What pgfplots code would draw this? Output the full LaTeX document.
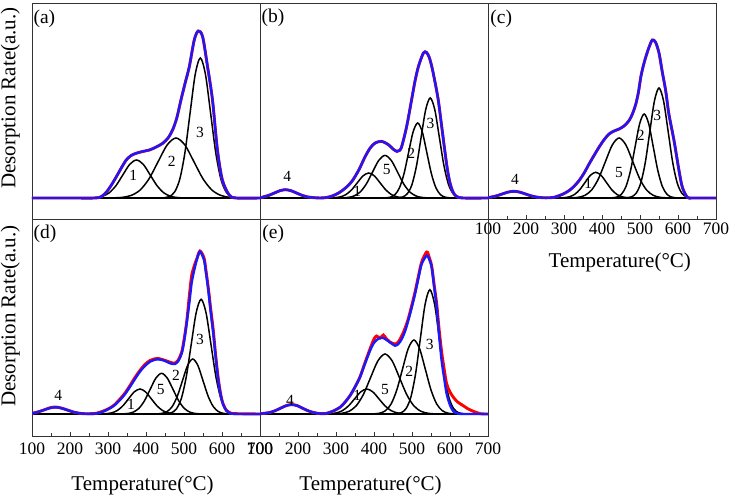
\documentclass[border=0pt]{standalone}
\usepackage{fontspec}
\setmainfont{Liberation Serif}
\usepackage{pgfplots}
\usepackage{pgfplotstable}
\pgfplotsset{compat=1.18}

\pgfplotstableread{
x y
100 0
200 0
265 0
283 1.5
296 6
309 13
322 21.3
335 30
348 38
361 42.5
374 44.7
391 46.5
409 48
427 51
444 54.7
458 60
470 68
481 80
492 98
503 115
514 131.3
527 158
537.5 167
549 161.3
562 131.3
575 98
588 48
601 18
619 3
637 0
700 0
}\fitA

\pgfplotstableread{
x y
100 0
109 1.1
123.5 2.7
138 5.0
152.5 7.3
167 8.3
181.5 7.3
196 5.0
210.5 2.7
225 1.1
240 0.4
258 0
275 0.5
290 2
307 5
325 10
342 16.7
360 28
377 41.6
390 50
403 55
420 56.6
438 53.3
450 49
460 46.6
467 47.5
473 51.6
486 71.6
499 98.3
508 117
517 131.6
530 145
538 145.6
545 141
552 131.6
560 117
569 98.3
578 72
586 48.3
593 29
600 15
608 6
617 1.6
635 0
700 0
}\fitB

\pgfplotstableread{
x y
100 0.4
108 0.9
123 2.2
138 4.1
153 5.9
168 6.7
183 5.9
198 4.1
213 2.2
228 0.9
243 0.3
260 0.2
275 0.8
295 3.5
313 7.3
326 11.5
339.5 17.3
353 25
366 34
379 42.5
392 50.7
405 58
418.5 64
432 67
445 69
458 72
471 77.3
480 84
489 94
496 106
502 120.7
508 131
515 140.7
524 151
532.5 158
541 155.7
550 145
558.8 125.7
567.6 107.3
576 84
589.6 57.3
602.7 27.3
611.5 10.7
624.7 0.7
640 0
700 0
}\fitC

\pgfplotstableread{
x y
100 0.6
117 2.2
132 4.1
147 5.9
162 6.7
177 5.9
192 4.1
207 2.2
222 0.9
237 0.3
255 0.1
270 0.5
288 2.5
305 5.7
318 9
331.6 14
345 20
358 27.3
371 35
384 42.3
397 48
410.5 52.3
421 54
432.4 54.7
443 54
454.5 52.3
465 50.5
476 50
485 53
494 60.7
500 72
507 90.7
514 111
520 130.7
527 144
533.5 154
542 162.3
552.7 154
558 141
564 124
570 103
577 80.7
583 58
590 34
597 18
603.5 9
612 3
621 0.7
640 0
700 0
}\fitD

\pgfplotstableread{
x y
100 0.6
117 2.2
132 4.1
147 6.2
162 7.0
177 5.9
192 4.1
207 2.2
222 0.9
237 0.3
255 0.3
270 0.8
288 3
305 6
318 9.5
331.6 15
345 21
358 28.5
371 36.5
384 43.5
397 49.5
410.5 53.5
421 55
432.4 55.5
443 54.5
454.5 53
465 51.5
476 51
485 54
494 62
500 74
507 92
514 118
520 138
527 148
533.5 155
542 163
552.7 156
558 143
564 126
570 106
577 84
583 60
590 36
597 19
603.5 9.5
612 3.5
621 1
640 0.3
700 0
}\datD

\pgfplotstableread{
x y
100 0.2
123 1.3
138 3.0
153 5.6
168 8.2
183 9.3
198 8.2
213 5.6
228 3.0
243 1.3
258 0.4
271 0.3
290 2.5
310.5 6.7
323 11.5
336.8 18.3
350 27
363 36.7
376 50
389.5 63.3
398 70
407 74
416 76
424.6 76
433 74
442 71.7
455 68.3
464 70
473 75
482 83
490 93.3
499 106
508 120
517 136
525.5 150
538.6 158.3
545 155
551.8 146.7
558 128
565 106.7
571 80
578 53.3
585 35
591.3 20
600 9
608.8 2.7
620 0.5
640 0
700 0
}\fitE

\pgfplotstableread{
x y
100 0.2
123 1.3
138 3.0
153 5.6
168 8.2
183 9.5
198 8.4
213 5.6
228 3.0
243 1.3
258 0.4
271 0.3
290 2.5
310.5 6.7
323 11.5
336.8 18.3
350 27
363 37
376 51
389.5 65
400 75
407 78
416 76
424.6 79
433 75
442 72
455 70
464 72
473 78
482 86
490 95
499 108
508 122
517 138
525.5 152
538.6 162
545 157
551.8 148
558 130
565 110
571 86
578 62
585 44
591.3 30
600 22
609 16.7
620 12
635 8.3
648 5
661.5 2.7
680 0.3
700 0
}\datE

\tikzset{
  pk/.style={font=\fontsize{15.5}{18}\selectfont, inner sep=0pt},
  plab/.style={font=\fontsize{19.5}{22}\selectfont, inner sep=0pt, anchor=north west},
}

\pgfplotsset{
  panel/.style={
    width=228pt, height=216pt, scale only axis,
    xmin=100, xmax=700, ymin=-21, ymax=195,
    ytick=\empty,
    axis line style={black!80, line width=0.9pt},
    tick style={black!80, line width=0.8pt},
    tick align=inside, xtick pos=bottom,
    xtick={100,200,...,700}, minor x tick num=1,
    major tick length=4pt, minor tick length=2.5pt,
    ticklabel style={font=\fontsize{17.5}{20}\selectfont},
    /pgf/number format/assume math mode=true,
    label style={font=\fontsize{21}{24}\selectfont},
    ylabel style={at={(axis description cs:-0.052,0.56)}, anchor=south, inner sep=0pt},
  },
  lower/.style={height=217pt, ymin=-22, ymax=195,
    xticklabel style={yshift=-3pt},
    xlabel style={at={(axis description cs:0.485,-0.226)}, anchor=center, inner sep=0pt}},
  notick/.style={xtick=\empty, minor x tick num=0},
  comp/.style={black, line width=1.5pt, smooth},
  fitc/.style={color={rgb,255:red,25;green,25;blue,255}, line width=2.4pt, smooth, tension=0.5},
  datc/.style={red, line width=2.9pt, smooth, tension=0.5},
}

\begin{document}
\begin{tikzpicture}
\useasboundingbox (0,0) rectangle (734pt,502pt);

% (a)
\begin{axis}[panel, notick, at={(32pt,283pt)}, anchor=south west, ylabel={Desorption Rate(a.u.)}]
\addplot[black, line width=1.5pt] coordinates {(100,0) (700,0)};
\addplot[comp] coordinates {(249,0.08) (267,0.42) (285,1.67) (303,5.14) (321,12.34) (339,23.05) (357,33.54) (375,38) (393,33.54) (411,23.05) (429,12.34) (447,5.14) (465,1.67) (483,0.42) (501,0.08)};
\addplot[comp] coordinates {(314.5,0.13) (338,0.67) (361.5,2.63) (385,8.12) (408.5,19.48) (432,36.39) (455.5,52.95) (479,60) (502.5,52.95) (526,36.39) (549.5,19.48) (573,8.12) (596.5,2.63) (620,0.67) (643.5,0.13)};
\addplot[comp] coordinates {(448.5,0.31) (462,1.55) (475.5,6.15) (489,18.94) (502.5,45.46) (516,84.91) (529.5,123.55) (543,140) (556.5,123.55) (570,84.91) (583.5,45.46) (597,18.94) (610.5,6.15) (624,1.55) (637.5,0.31)};
\addplot[datc] table {\fitA};
\addplot[fitc] table {\fitA};
\node[pk] at (axis cs:366.7,23) {1};
\node[pk] at (axis cs:467.6,36.3) {2};
\node[pk] at (axis cs:542,65.3) {3};
\node[plab] at (axis description cs:0.006,0.97) {(a)};
\end{axis}

% (b)
\begin{axis}[panel, notick, at={(260pt,283pt)}, anchor=south west]
\addplot[black, line width=1.5pt] coordinates {(100,0) (700,0)};
\addplot[comp] coordinates {(65.5,0.02) (80,0.09) (94.5,0.36) (109,1.12) (123.5,2.69) (138,5.03) (152.5,7.32) (167,8.3) (181.5,7.32) (196,5.03) (210.5,2.69) (225,1.12) (239.5,0.36) (254,0.09) (268.5,0.02)};
\addplot[comp] coordinates {(281,0.06) (296,0.28) (311,1.10) (326,3.38) (341,8.12) (356,15.16) (371,22.06) (386,25) (401,22.06) (416,15.16) (431,8.12) (446,3.38) (461,1.10) (476,0.28) (491,0.06)};
\addplot[comp] coordinates {(313.5,0.09) (330,0.47) (346.5,1.87) (363,5.76) (379.5,13.83) (396,25.84) (412.5,37.59) (429,42.6) (445.5,37.59) (462,25.84) (478.5,13.83) (495,5.76) (511.5,1.87) (528,0.47) (544.5,0.09)};
\addplot[comp] coordinates {(431,0.17) (443,0.83) (455,3.29) (467,10.15) (479,24.35) (491,45.49) (503,66.19) (515,75) (527,66.19) (539,45.49) (551,24.35) (563,10.15) (575,3.29) (587,0.83) (599,0.17)};
\addplot[comp] coordinates {(464,0.22) (476,1.11) (488,4.39) (500,13.53) (512,32.47) (524,60.65) (536,88.25) (548,100) (560,88.25) (572,60.65) (584,32.47) (596,13.53) (608,4.39) (620,1.11) (632,0.22)};
\addplot[datc] table {\fitB};
\addplot[fitc] table {\fitB};
\node[pk] at (axis cs:172,21.6) {4};
\node[pk] at (axis cs:356,6.6) {1};
\node[pk] at (axis cs:433.5,28.3) {5};
\node[pk] at (axis cs:498,45) {2};
\node[pk] at (axis cs:549,74.3) {3};
\node[plab] at (axis description cs:0.006,0.975) {(b)};
\end{axis}

% (c)
\begin{axis}[panel, at={(488pt,283pt)}, anchor=south west, xlabel={Temperature(°C)},
  xlabel style={at={(axis description cs:0.578,-0.2)}, anchor=center, inner sep=0pt}]
\addplot[black, line width=1.5pt] coordinates {(100,0) (700,0)};
\addplot[comp] coordinates {(63,0.01) (78,0.07) (93,0.29) (108,0.91) (123,2.18) (138,4.06) (153,5.91) (168,6.7) (183,5.91) (198,4.06) (213,2.18) (228,0.91) (243,0.29) (258,0.07) (273,0.01)};
\addplot[comp] coordinates {(285.5,0.06) (299.5,0.29) (313.5,1.13) (327.5,3.48) (341.5,8.34) (355.5,15.59) (369.5,22.68) (383.5,25.7) (397.5,22.68) (411.5,15.59) (425.5,8.34) (439.5,3.48) (453.5,1.13) (467.5,0.29) (481.5,0.06)};
\addplot[comp] coordinates {(319,0.13) (337,0.67) (355,2.63) (373,8.12) (391,19.48) (409,36.39) (427,52.95) (445,60) (463,52.95) (481,36.39) (499,19.48) (517,8.12) (535,2.63) (553,0.67) (571,0.13)};
\addplot[comp] coordinates {(427,0.18) (439,0.93) (451,3.69) (463,11.37) (475,27.27) (487,50.95) (499,74.13) (511,84) (523,74.13) (535,50.95) (547,27.27) (559,11.37) (571,3.69) (583,0.93) (595,0.18)};
\addplot[comp] coordinates {(466,0.24) (478,1.22) (490,4.83) (502,14.88) (514,35.72) (526,66.72) (538,97.08) (550,110) (562,97.08) (574,66.72) (586,35.72) (598,14.88) (610,4.83) (622,1.22) (634,0.24)};
\addplot[datc] table {\fitC};
\addplot[fitc] table {\fitC};
\node[pk] at (axis cs:171,19) {4};
\node[pk] at (axis cs:364,14.7) {1};
\node[pk] at (axis cs:444.8,25.7) {5};
\node[pk] at (axis cs:502,62.3) {2};
\node[pk] at (axis cs:545.6,82.3) {3};
\node[plab] at (axis description cs:0.01,0.97) {(c)};
\end{axis}

% (d)
\begin{axis}[panel, lower, at={(32pt,66pt)}, anchor=south west, xlabel={Temperature(°C)}, ylabel={Desorption Rate(a.u.)},
  ylabel style={at={(axis description cs:-0.052,0.553)}}]
\addplot[black, line width=1.5pt] coordinates {(100,0) (700,0)};
\addplot[comp] coordinates {(57,0.01) (72,0.07) (87,0.29) (102,0.91) (117,2.18) (132,4.06) (147,5.91) (162,6.7) (177,5.91) (192,4.06) (207,2.18) (222,0.91) (237,0.29) (252,0.07) (267,0.01)};
\addplot[comp] coordinates {(279,0.06) (294,0.28) (309,1.10) (324,3.38) (339,8.12) (354,15.16) (369,22.06) (384,25) (399,22.06) (414,15.16) (429,8.12) (444,3.38) (459,1.10) (474,0.28) (489,0.06)};
\addplot[comp] coordinates {(336,0.09) (351,0.45) (366,1.79) (381,5.51) (396,13.22) (411,24.68) (426,35.92) (441,40.7) (456,35.92) (471,24.68) (486,13.22) (501,5.51) (516,1.79) (531,0.45) (546,0.09)};
\addplot[comp] coordinates {(428.5,0.12) (442,0.61) (455.5,2.41) (469,7.44) (482.5,17.86) (496,33.36) (509.5,48.54) (523,55) (536.5,48.54) (550,33.36) (563.5,17.86) (577,7.44) (590.5,2.41) (604,0.61) (617.5,0.12)};
\addplot[comp] coordinates {(454,0.25) (467,1.27) (480,5.04) (493,15.52) (506,37.24) (519,69.57) (532,101.22) (545,114.7) (558,101.22) (571,69.57) (584,37.24) (597,15.52) (610,5.04) (623,1.27) (636,0.25)};
\addplot[datc] table {\datD};
\addplot[fitc] table {\fitD};
\node[pk] at (axis cs:169,19) {4};
\node[pk] at (axis cs:360.6,10) {1};
\node[pk] at (axis cs:438.7,24) {5};
\node[pk] at (axis cs:479,39) {2};
\node[pk] at (axis cs:542,74.7) {3};
\node[plab] at (axis description cs:0.006,0.972) {(d)};
\end{axis}

% (e)
\begin{axis}[panel, lower, at={(260pt,66pt)}, anchor=south west, xlabel={Temperature(°C)}]
\addplot[black, line width=1.5pt] coordinates {(100,0) (700,0)};
\addplot[comp] coordinates {(78,0.02) (93,0.10) (108,0.41) (123,1.26) (138,3.02) (153,5.64) (168,8.21) (183,9.3) (198,8.21) (213,5.64) (228,3.02) (243,1.26) (258,0.41) (273,0.10) (288,0.02)};
\addplot[comp] coordinates {(269,0.06) (285,0.28) (301,1.10) (317,3.38) (333,8.12) (349,15.16) (365,22.06) (381,25) (397,22.06) (413,15.16) (429,8.12) (445,3.38) (461,1.10) (477,0.28) (493,0.06)};
\addplot[comp] coordinates {(296,0.13) (315,0.67) (334,2.63) (353,8.12) (372,19.48) (391,36.39) (410,52.95) (429,60) (448,52.95) (467,36.39) (486,19.48) (505,8.12) (524,2.63) (543,0.67) (562,0.13)};
\addplot[comp] coordinates {(400,0.16) (415,0.82) (430,3.25) (445,10.01) (460,24.03) (475,44.88) (490,65.31) (505,74) (520,65.31) (535,44.88) (550,24.03) (565,10.01) (580,3.25) (595,0.82) (610,0.16)};
\addplot[comp] coordinates {(459.5,0.27) (472,1.38) (484.5,5.46) (497,16.82) (509.5,40.36) (522,75.39) (534.5,109.69) (547,124.3) (559.5,109.69) (572,75.39) (584.5,40.36) (597,16.82) (609.5,5.46) (622,1.38) (634.5,0.27)};
\addplot[datc] table {\datE};
\addplot[fitc] table {\fitE};
\node[pk] at (axis cs:179,14) {4};
\node[pk] at (axis cs:356,18.3) {1};
\node[pk] at (axis cs:429,24) {5};
\node[pk] at (axis cs:493,42.7) {2};
\node[pk] at (axis cs:547,69.3) {3};
\node[plab] at (axis description cs:0.01,0.972) {(e)};
\end{axis}

\end{tikzpicture}
\end{document}
